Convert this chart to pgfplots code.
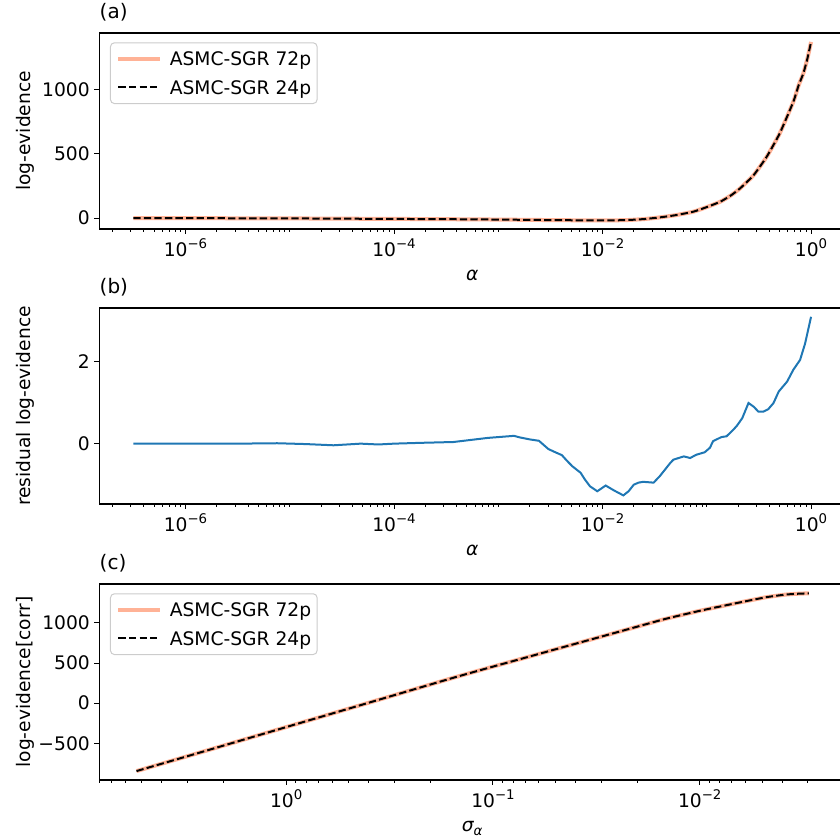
\documentclass[border=0pt]{standalone}
\usepackage{fontspec}
\setmainfont{DejaVu Sans}
\usepackage{pgfplots}
\usepackage{pgfplotstable}
\pgfplotsset{compat=1.18}
\definecolor{salmonl}{HTML}{FFB296}
\definecolor{tabblue}{HTML}{1F77B4}
\newcommand{\fsz}{\fontsize{14}{17}\selectfont}
\newcommand{\tp}[1]{{\fsz 10\raisebox{6pt}{\fontsize{10}{12}\selectfont #1}}}
\newcommand{\tl}[1]{{\fsz #1}}

\pgfplotstableread{
x y
3.162e-7 0
1e-6 -1
3.162e-6 -2
1e-5 -3
3.162e-5 -5
1e-4 -7
3.162e-4 -9
1e-3 -12
3.162e-3 -16
0.01 -19
0.01698 -16
0.02512 -8
0.03548 5
0.05012 22
0.07413 49
0.1 85
0.1349 127
0.1698 175
0.2089 231
0.2818 334
0.3758 477
0.5012 659
0.6761 904
0.7586 1030
0.8433 1125
0.9226 1240
1 1370
}\dataA

\pgfplotstableread{
x y
3.162e-7 0
1e-6 0.0
3.162e-6 0.0
7.586e-6 0.01
1.413e-5 -0.01
2.63e-5 -0.04
4.786e-5 0.0
7.079e-5 -0.02
1e-4 0.0
1.82e-4 0.02
3.715e-4 0.04
7.943e-4 0.14
1.413e-3 0.19
1.622e-3 0.15
2.042e-3 0.10
2.455e-3 0.07
3.02e-3 -0.13
3.388e-3 -0.19
4.074e-3 -0.28
4.571e-3 -0.42
5.129e-3 -0.55
6.166e-3 -0.71
6.761e-3 -0.87
7.586e-3 -1.04
8.913e-3 -1.16
1.072e-2 -1.02
1.288e-2 -1.14
1.585e-2 -1.26
1.778e-2 -1.16
1.995e-2 -1.0
2.213e-2 -0.95
2.455e-2 -0.93
3.09e-2 -0.95
3.548e-2 -0.79
3.981e-2 -0.63
4.467e-2 -0.47
4.786e-2 -0.39
6.026e-2 -0.31
6.918e-2 -0.35
7.943e-2 -0.27
9.55e-2 -0.21
0.1072 -0.10
0.1148 0.06
0.138 0.16
0.1549 0.18
0.1799 0.34
0.195 0.44
0.2188 0.62
0.2512 0.99
0.2818 0.90
0.3126 0.78
0.349 0.78
0.389 0.84
0.4365 0.99
0.4898 1.27
0.5888 1.51
0.6761 1.80
0.7852 2.04
0.877 2.44
1 3.09
}\dataB

\pgfplotstableread{
x y
5.297 -846
2.512 -602
1 -298
0.3981 6
0.1585 310
0.1 455
0.06457 590
0.04467 705
0.03076 820
0.02089 940
0.01462 1050
0.01 1150
0.006966 1235
0.004808 1318
0.003846 1352
0.003388 1362
0.002965 1368
}\dataC

\pgfplotsset{
 myax/.style={
  scale only axis, width=559.1pt, height=147pt,
  tick pos=left, tick align=outside,
  major tick length=3.75pt, minor tick length=2.25pt,
  every tick/.style={black, line width=0.75pt},
  axis line style={line width=0.9pt, black},
  tick label style={font=\fsz},
  label style={font=\fsz},
  every axis y label/.style={at={(axis description cs:-0.0993,0.5)}, rotate=90, anchor=center},
  every axis x label/.style={at={(axis description cs:0.5,0)}, anchor=base, yshift=-39pt},
  title style={at={(axis description cs:0,1)}, anchor=base west, inner sep=0pt, yshift=5pt},
  legend cell align=left,
  legend image code/.code={\draw[##1] (0pt,0pt) -- (31pt,0pt);},
  legend style={at={(axis description cs:0.0141,0.9526)}, anchor=north west,
    draw=black!20, line width=0.75pt, rounded corners=3pt, fill=white, fill opacity=0.8, text opacity=1,
    inner xsep=4.5pt, inner ysep=6.9pt, row sep=11pt,
    nodes={inner sep=0pt, text depth=0pt, font=\fsz},
    /tikz/every even column/.append style={column sep=0pt},
    /tikz/every odd column/.append style={column sep=6pt}},
 },
 alphax/.style={
  xmin=1.496e-7, xmax=2.113,
  xtick={1e-6,1e-4,1e-2,1},
  xticklabels={\tp{−6},\tp{−4},\tp{−2},\tp{0}},
  minor xtick={2e-7,3e-7,4e-7,5e-7,6e-7,7e-7,8e-7,9e-7,
   2e-6,3e-6,4e-6,5e-6,6e-6,7e-6,8e-6,9e-6,1e-5,
   2e-5,3e-5,4e-5,5e-5,6e-5,7e-5,8e-5,9e-5,
   2e-4,3e-4,4e-4,5e-4,6e-4,7e-4,8e-4,9e-4,1e-3,
   2e-3,3e-3,4e-3,5e-3,6e-3,7e-3,8e-3,9e-3,
   2e-2,3e-2,4e-2,5e-2,6e-2,7e-2,8e-2,9e-2,1e-1,
   2e-1,3e-1,4e-1,5e-1,6e-1,7e-1,8e-1,9e-1,2},
  xlabel={\fsz\itshape α},
 },
}

\begin{document}
\begin{tikzpicture}[font=\fsz]
\useasboundingbox (0,0) rectangle (630pt,628.5pt);
\clip (0,0) rectangle (630pt,628.5pt);

% (a)
\begin{axis}[xmode=log, myax, alphax, at={(74.6pt,456.75pt)}, anchor=south west,
  ymin=-85.3, ymax=1439.3,
  ytick={0,500,1000}, yticklabels={\tl{0},\tl{500},\tl{1000}},
  ylabel={\fsz log-evidence}, title={\fontsize{15}{18}\selectfont (a)}]
\addplot[salmonl, line width=3pt, smooth, tension=0.3] table {\dataA};
\addlegendentry{ASMC-SGR 72p}
\addplot[black, line width=1.5pt, dash pattern=on 5.5pt off 2.4pt, smooth, tension=0.3] table {\dataA};
\addlegendentry{ASMC-SGR 24p}
\end{axis}

% (b)
\begin{axis}[xmode=log, myax, alphax, at={(74.6pt,250.5pt)}, anchor=south west,
  ymin=-1.47, ymax=3.305,
  ytick={0,2}, yticklabels={\tl{0},\tl{2}},
  ylabel={\fsz residual log-evidence}, title={\fontsize{15}{18}\selectfont (b)}]
\addplot[tabblue, line width=1.5pt] table {\dataB};
\end{axis}

% (c)
\begin{axis}[xmode=log, myax, at={(74.6pt,43.5pt)}, anchor=south west,
  x dir=reverse,
  xmin=1.986e-3, xmax=8.0,
  xtick={1e-2,1e-1,1},
  xticklabels={\tp{−2},\tp{−1},\tp{0}},
  minor xtick={3e-3,4e-3,5e-3,6e-3,7e-3,8e-3,9e-3,
   2e-2,3e-2,4e-2,5e-2,6e-2,7e-2,8e-2,9e-2,
   2e-1,3e-1,4e-1,5e-1,6e-1,7e-1,8e-1,9e-1,
   2,3,4,5,6,7,8},
  ymin=-957, ymax=1484,
  ytick={-500,0,500,1000}, yticklabels={\tl{−500},\tl{0},\tl{500},\tl{1000}},
  xlabel={\fsz{\itshape σ}\raisebox{-2.5pt}{\fontsize{10}{12}\selectfont\itshape α}},
  ylabel={\fsz log-evidence[corr]}, title={\fontsize{15}{18}\selectfont (c)}]
\addplot[salmonl, line width=3pt, smooth, tension=0.3] table {\dataC};
\addlegendentry{ASMC-SGR 72p}
\addplot[black, line width=1.5pt, dash pattern=on 5.5pt off 2.4pt, smooth, tension=0.3] table {\dataC};
\addlegendentry{ASMC-SGR 24p}
\end{axis}
\end{tikzpicture}
\end{document}
